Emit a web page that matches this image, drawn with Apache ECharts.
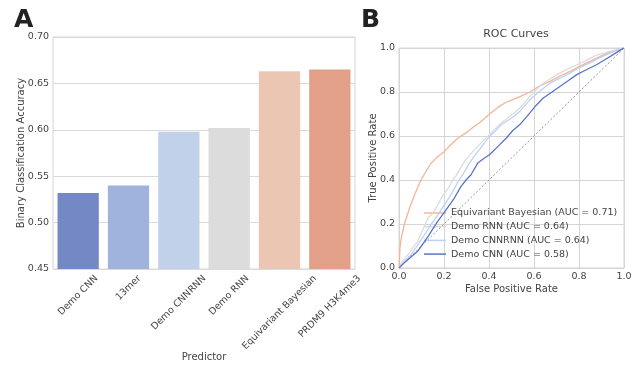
<!DOCTYPE html>
<html>
<head>
<meta charset="utf-8">
<script src="https://cdn.jsdelivr.net/npm/echarts@6/dist/echarts.min.js"></script>
<style>
  html, body { margin: 0; padding: 0; background: #fff; }
  #chart { width: 638px; height: 366px; }
</style>
</head>
<body>
<div id="chart"></div>
<script>
// panel A: accuracy per predictor
const predictors = ['Demo CNN', '13mer', 'Demo CNNRNN', 'Demo RNN', 'Equivariant Bayesian', 'PRDM9 H3K4me3']
const accuracy = [0.532, 0.540, 0.598, 0.602, 0.663, 0.665]
const barColors = ['#7388c4', '#a0b3dc', '#c2d1ea', '#dcdcdc', '#ebc6b3', '#e2a089']
const accTicks = [0.45, 0.50, 0.55, 0.60, 0.65, 0.70]

// panel B: ROC curves
const rocNames = [
  'Equivariant Bayesian (AUC = 0.71)',
  'Demo RNN (AUC = 0.64)',
  'Demo CNNRNN (AUC = 0.64)',
  'Demo CNN (AUC = 0.58)',
]
const rocColors = ['#f5b497', '#dcdcdc', '#bcd1f4', '#5a74c4']

const ebFpr = [0, 0.002, 0.004, 0.009, 0.024, 0.046, 0.068, 0.085, 0.098, 0.12, 0.142, 0.17, 0.202, 0.23, 0.261, 0.306, 0.33, 0.358, 0.38, 0.402, 0.44, 0.47, 0.506, 0.54, 0.582, 0.62, 0.671, 0.72, 0.76, 0.80, 0.849, 0.89, 0.938, 0.97, 1]
const ebTpr = [0, 0.02, 0.09, 0.13, 0.20, 0.27, 0.33, 0.37, 0.40, 0.44, 0.475, 0.505, 0.53, 0.56, 0.59, 0.62, 0.64, 0.66, 0.68, 0.70, 0.73, 0.75, 0.765, 0.78, 0.80, 0.825, 0.848, 0.875, 0.894, 0.915, 0.939, 0.96, 0.982, 0.992, 1]

const rnnFpr = [0, 0.015, 0.039, 0.06, 0.083, 0.10, 0.128, 0.15, 0.172, 0.195, 0.217, 0.239, 0.254, 0.291, 0.32, 0.35, 0.375, 0.402, 0.43, 0.454, 0.48, 0.506, 0.54, 0.582, 0.61, 0.641, 0.68, 0.715, 0.75, 0.79, 0.835, 0.878, 0.938, 0.97, 1]
const rnnTpr = [0, 0.03, 0.06, 0.09, 0.12, 0.16, 0.225, 0.25, 0.285, 0.33, 0.36, 0.40, 0.42, 0.485, 0.52, 0.553, 0.58, 0.606, 0.635, 0.659, 0.68, 0.70, 0.73, 0.78, 0.81, 0.84, 0.865, 0.886, 0.905, 0.924, 0.945, 0.968, 0.985, 0.993, 1]

const cnnrnnFpr = [0, 0.02, 0.053, 0.08, 0.113, 0.14, 0.172, 0.2, 0.231, 0.261, 0.283, 0.313, 0.335, 0.358, 0.38, 0.402, 0.43, 0.454, 0.48, 0.506, 0.54, 0.582, 0.62, 0.671, 0.72, 0.76, 0.80, 0.849, 0.89, 0.938, 0.97, 1]
const cnnrnnTpr = [0, 0.025, 0.06, 0.10, 0.15, 0.195, 0.24, 0.285, 0.333, 0.39, 0.424, 0.477, 0.51, 0.538, 0.57, 0.598, 0.625, 0.651, 0.668, 0.685, 0.715, 0.765, 0.80, 0.84, 0.865, 0.886, 0.91, 0.932, 0.955, 0.977, 0.99, 1]

const cnnFpr = [0, 0.03, 0.083, 0.13, 0.172, 0.21, 0.246, 0.275, 0.298, 0.32, 0.35, 0.38, 0.402, 0.44, 0.476, 0.506, 0.54, 0.582, 0.61, 0.641, 0.68, 0.715, 0.75, 0.79, 0.83, 0.878, 0.92, 0.952, 0.98, 1]
const cnnTpr = [0, 0.03, 0.076, 0.145, 0.212, 0.265, 0.318, 0.37, 0.40, 0.424, 0.477, 0.50, 0.515, 0.553, 0.59, 0.625, 0.655, 0.705, 0.74, 0.773, 0.80, 0.825, 0.85, 0.879, 0.90, 0.924, 0.95, 0.97, 0.988, 1]

const chanceFpr = [0, 1]
const chanceTpr = [0, 1]

const FONT = '"DejaVu Sans", sans-serif'
const TEXT = '#444'

function pairs (xs, ys) {
  return xs.map((x, i) => [x, ys[i]])
}

// matplotlib centres the rotated box under the tick; fake that with padding
const ctx = document.createElement('canvas').getContext('2d')
ctx.font = '9.5px "DejaVu Sans"'
const labelRich = {}
predictors.forEach((p, i) => {
  const s = (ctx.measureText(p).width + 11) / 4
  labelRich['l' + i] = {
    fontSize: 9.5, fontFamily: FONT, color: TEXT,
    padding: [2 * s, 2 * s, 0, 0],
  }
})

const rocX = [ebFpr, rnnFpr, cnnrnnFpr, cnnFpr]
const rocY = [ebTpr, rnnTpr, cnnrnnTpr, cnnTpr]

const rocSeries = rocNames.map((name, i) => ({
  name,
  type: 'line',
  xAxisIndex: 1,
  yAxisIndex: 1,
  data: pairs(rocX[i], rocY[i]),
  showSymbol: false,
  symbol: 'none',
  lineStyle: { color: rocColors[i], width: 1.3 },
  itemStyle: { color: rocColors[i] },
  z: 3 + i,
}))

const option = {
  animation: false,
  backgroundColor: '#fff',
  textStyle: { fontFamily: FONT },
  title: [
    { text: 'A', left: 9, top: 3, textStyle: { fontSize: 25, fontWeight: 'bold', color: '#222', fontFamily: FONT } },
    { text: 'B', left: 356, top: 3, textStyle: { fontSize: 25, fontWeight: 'bold', color: '#222', fontFamily: FONT } },
    { text: 'ROC Curves', left: 511, top: 24, textAlign: 'center', textStyle: { fontSize: 11, fontWeight: 'normal', color: TEXT, fontFamily: FONT } },
  ],
  grid: [
    { left: 53, right: 283, top: 37, bottom: 97, outerBoundsMode: 'none', show: true, borderColor: '#d5d5d5', borderWidth: 1, backgroundColor: 'transparent' },
    { left: 399, right: 14, top: 48, bottom: 98, outerBoundsMode: 'none', show: true, borderColor: '#d5d5d5', borderWidth: 1, backgroundColor: 'transparent' },
  ],
  legend: {
    data: rocNames,
    orient: 'vertical',
    left: 424,
    top: 207,
    padding: 0,
    itemGap: 1.7,
    itemWidth: 22,
    itemHeight: 1.5,
    icon: 'rect',
    textStyle: { fontSize: 9.5, color: TEXT, fontFamily: FONT, lineHeight: 12 },
  },
  xAxis: [
    {
      type: 'category',
      gridIndex: 0,
      data: predictors,
      name: 'Predictor',
      nameLocation: 'middle',
      nameGap: 83,
      nameMoveOverlap: false,
      nameTextStyle: { fontSize: 10, color: TEXT },
      axisLine: { show: false },
      axisTick: { show: false },
      axisLabel: {
        interval: 0,
        rotate: 45,
        align: 'center',
        verticalAlign: 'middle',
        margin: 4,
        formatter: (v, i) => `{l${i}|${v}}`,
        rich: labelRich,
      },
    },
    {
      type: 'value',
      gridIndex: 1,
      min: 0,
      max: 1,
      interval: 0.2,
      name: 'False Positive Rate',
      nameLocation: 'middle',
      nameGap: 16,
      nameMoveOverlap: false,
      nameTextStyle: { fontSize: 10, color: TEXT },
      axisLine: { show: false },
      axisTick: { show: false },
      axisLabel: { fontSize: 9.5, color: TEXT, margin: 4, formatter: v => v.toFixed(1) },
      splitLine: { show: true, lineStyle: { color: '#d5d5d5', width: 1 } },
    },
  ],
  yAxis: [
    {
      type: 'value',
      gridIndex: 0,
      min: accTicks[0],
      max: accTicks[accTicks.length - 1],
      interval: 0.05,
      name: 'Binary Classification Accuracy',
      nameLocation: 'middle',
      nameGap: 27,
      nameMoveOverlap: false,
      nameTextStyle: { fontSize: 10, color: TEXT },
      axisLine: { show: false },
      axisTick: { show: false },
      axisLabel: { fontSize: 9.5, color: TEXT, margin: 4, formatter: v => v.toFixed(2) },
      splitLine: { show: true, lineStyle: { color: '#dadada', width: 1.2 } },
    },
    {
      type: 'value',
      gridIndex: 1,
      min: 0,
      max: 1,
      interval: 0.2,
      name: 'True Positive Rate',
      nameLocation: 'middle',
      nameGap: 21,
      nameMoveOverlap: false,
      nameTextStyle: { fontSize: 10, color: TEXT },
      axisLine: { show: false },
      axisTick: { show: false },
      axisLabel: { fontSize: 9.5, color: TEXT, margin: 4, formatter: v => v.toFixed(1) },
      splitLine: { show: true, lineStyle: { color: '#d5d5d5', width: 1 } },
    },
  ],
  series: [
    {
      type: 'bar',
      xAxisIndex: 0,
      yAxisIndex: 0,
      barCategoryGap: '18%',
      data: accuracy.map((v, i) => ({ value: v, itemStyle: { color: barColors[i] } })),
      z: 3,
    },
    ...rocSeries,
    {
      name: 'chance',
      type: 'line',
      xAxisIndex: 1,
      yAxisIndex: 1,
      data: pairs(chanceFpr, chanceTpr),
      showSymbol: false,
      symbol: 'none',
      lineStyle: { color: '#666', width: 0.7, type: [2, 2] },
      z: 2,
    },
  ],
}

const chart = echarts.init(document.getElementById('chart'), null, { renderer: 'canvas' })
chart.setOption(option)
</script>
</body>
</html>
